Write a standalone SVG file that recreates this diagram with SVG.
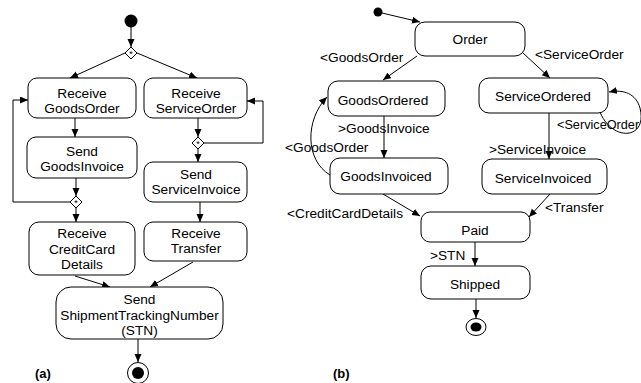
<svg xmlns="http://www.w3.org/2000/svg" width="641" height="383" viewBox="0 0 641 383">
  <defs>
    <marker id="arrow" markerUnits="userSpaceOnUse" markerWidth="9" markerHeight="8" refX="8" refY="3.5" orient="auto">
      <path d="M0,0 L8,3.5 L0,7 z" fill="#000"/>
    </marker>
    <style>
      .box { fill: #fff; stroke: #000; stroke-width: 1; }
      .t { font-family: "Liberation Sans", Arial, sans-serif; font-size: 13.7px; fill: #000; }
      .c { text-anchor: middle; }
      .cap { font-family: "Liberation Sans", Arial, sans-serif; font-size: 13px; font-weight: bold; fill: #000; }
      .edge { fill: none; stroke: #000; stroke-width: 1; }
      .arr { marker-end: url(#arrow); }
      .dia { fill: #fff; stroke: #000; stroke-width: 1; }
      .star { font-family: "Liberation Sans", Arial, sans-serif; font-size: 9px; text-anchor: middle; fill: #000; }
    </style>
  </defs>
  <rect width="641" height="383" fill="#fff"/>

  <!-- (a) activity diagram: connectors -->
  <g id="edges-a">
    <path class="edge arr" d="M131,27 L131,47"/>
    <path class="edge arr" d="M125,53 L70,78"/>
    <path class="edge arr" d="M137,53 L197,78"/>
    <path class="edge arr" d="M75,118 L75,137"/>
    <path class="edge arr" d="M198,118 L198,137"/>
    <path class="edge arr" d="M204,143 L263,143 L263,101 L247,101"/>
    <path class="edge arr" d="M198,149 L198,162"/>
    <path class="edge arr" d="M76,178 L76,196"/>
    <path class="edge arr" d="M70,202 L13,202 L13,100 L28,100"/>
    <path class="edge arr" d="M76,208 L76,222"/>
    <path class="edge arr" d="M200,202 L200,222"/>
    <path class="edge arr" d="M75,276 L110,287"/>
    <path class="edge arr" d="M193,262 L150,287"/>
    <path class="edge arr" d="M138,339 L138,362"/>
  </g>

  <!-- (a) nodes -->
  <g id="a-start"><circle cx="131" cy="21" r="6.5" fill="#000"/></g>
  <g id="a-fork1">
    <polygon class="dia" points="131,47 137,53 131,59 125,53"/>
    <text class="star" x="131" y="57">*</text>
  </g>
  <g id="a-fork2">
    <polygon class="dia" points="198,137 204,143 198,149 192,143"/>
    <text class="star" x="198" y="147">*</text>
  </g>
  <g id="a-fork3">
    <polygon class="dia" points="76,196 82,202 76,208 70,202"/>
    <text class="star" x="76" y="206">*</text>
  </g>
  <g id="a-receive-goods-order">
    <rect class="box" x="28" y="78" width="108" height="40" rx="9"/>
    <text class="t c" x="82" y="98">Receive</text>
    <text class="t c" x="82" y="113">GoodsOrder</text>
  </g>
  <g id="a-receive-service-order">
    <rect class="box" x="144" y="78" width="103" height="40" rx="9"/>
    <text class="t c" x="196" y="98">Receive</text>
    <text class="t c" x="196" y="113">ServiceOrder</text>
  </g>
  <g id="a-send-goods-invoice">
    <rect class="box" x="27" y="137" width="110" height="41" rx="9"/>
    <text class="t c" x="82" y="156">Send</text>
    <text class="t c" x="82" y="171">GoodsInvoice</text>
  </g>
  <g id="a-send-service-invoice">
    <rect class="box" x="144" y="162" width="103" height="40" rx="9"/>
    <text class="t c" x="196" y="179">Send</text>
    <text class="t c" x="196" y="194">ServiceInvoice</text>
  </g>
  <g id="a-receive-credit-card">
    <rect class="box" x="29" y="222" width="106" height="53" rx="10"/>
    <text class="t c" x="82" y="238">Receive</text>
    <text class="t c" x="82" y="254">CreditCard</text>
    <text class="t c" x="82" y="269">Details</text>
  </g>
  <g id="a-receive-transfer">
    <rect class="box" x="144" y="222" width="103" height="39" rx="9"/>
    <text class="t c" x="196" y="238">Receive</text>
    <text class="t c" x="196" y="253">Transfer</text>
  </g>
  <g id="a-send-stn">
    <rect class="box" x="56" y="287" width="167" height="52" rx="15"/>
    <text class="t c" x="139.5" y="304">Send</text>
    <text class="t c" x="139.5" y="320">ShipmentTrackingNumber</text>
    <text class="t c" x="139.5" y="335">(STN)</text>
  </g>
  <g id="a-end">
    <circle cx="138" cy="373" r="10.5" fill="#fff" stroke="#000" stroke-width="1"/>
    <circle cx="138" cy="373" r="6" fill="#000"/>
  </g>
  <text class="cap" x="35" y="378">(a)</text>

  <!-- (b) state machine: connectors and their labels -->
  <g id="edges-b">
    <path class="edge arr" d="M382,13 L420,22"/>
    <path class="edge arr" d="M417,56 L383,80"/>
    <path class="edge arr" d="M523,53 L550,78"/>
    <path class="edge arr" d="M600,112 C612,142 648,140 640,108 C636,94 624,89 609,92"/>
    <path class="edge arr" d="M384,116 L384,158"/>
    <path class="edge arr" d="M330,175 C305,160 305,120 327,97"/>
    <path class="edge arr" d="M549,113 L549,159"/>
    <path class="edge arr" d="M383,194 L420,216"/>
    <path class="edge arr" d="M550,194 L529,217"/>
    <path class="edge arr" d="M475,242 L475,266"/>
    <path class="edge arr" d="M476,299 L476,318"/>
    <text class="t" x="320" y="62">&lt;GoodsOrder</text>
    <text class="t" x="535" y="59">&lt;ServiceOrder</text>
    <text class="t" x="557" y="129" style="font-size:12.7px">&lt;ServiceOrder</text>
    <text class="t" x="338" y="133">&gt;GoodsInvoice</text>
    <text class="t" x="285" y="152">&lt;GoodsOrder</text>
    <text class="t" x="489" y="154">&gt;ServiceInvoice</text>
    <text class="t" x="287" y="218">&lt;CreditCardDetails</text>
    <text class="t" x="545" y="212">&lt;Transfer</text>
    <text class="t" x="430" y="260">&gt;STN</text>
  </g>

  <!-- (b) states -->
  <g id="b-start"><circle cx="378" cy="12" r="4.5" fill="#000"/></g>
  <g id="b-order">
    <rect class="box" x="415" y="22" width="110" height="34" rx="10"/>
    <text class="t c" x="470" y="44">Order</text>
  </g>
  <g id="b-goods-ordered">
    <rect class="box" x="328" y="81" width="117" height="35" rx="10"/>
    <text class="t c" x="383" y="105">GoodsOrdered</text>
  </g>
  <g id="b-service-ordered">
    <rect class="box" x="479" y="78" width="129" height="35" rx="10"/>
    <text class="t c" x="543" y="101">ServiceOrdered</text>
  </g>
  <g id="b-goods-invoiced">
    <rect class="box" x="330" y="158" width="118" height="36" rx="10"/>
    <text class="t c" x="386" y="181">GoodsInvoiced</text>
  </g>
  <g id="b-service-invoiced">
    <rect class="box" x="482" y="159" width="125" height="35" rx="10"/>
    <text class="t c" x="543" y="183">ServiceInvoiced</text>
  </g>
  <g id="b-paid">
    <rect class="box" x="421" y="212" width="109" height="30" rx="9"/>
    <text class="t c" x="475" y="235">Paid</text>
  </g>
  <g id="b-shipped">
    <rect class="box" x="421" y="266" width="109" height="33" rx="10"/>
    <text class="t c" x="475" y="289">Shipped</text>
  </g>
  <g id="b-end">
    <ellipse cx="476" cy="327" rx="10" ry="8.5" fill="#fff" stroke="#000" stroke-width="1"/>
    <ellipse cx="476" cy="327" rx="5.5" ry="4.5" fill="#000"/>
  </g>
  <text class="cap" x="333" y="378">(b)</text>
</svg>
